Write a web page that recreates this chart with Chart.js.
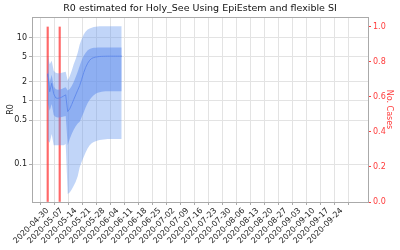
<!DOCTYPE html>
<html>
<head>
<meta charset="utf-8">
<script src="https://cdn.jsdelivr.net/npm/chart.js@4"></script>
<style>
  html, body { margin: 0; padding: 0; background: #fff; }
  canvas { display: block; }
</style>
</head>
<body>
<canvas id="chart" width="400" height="250"></canvas>
<script>
// day 0 = first estimate date, one value per day
const startDate = '2020-04-30';

const r0Mean = [2.7, 1.4, 1.9, 1.3, 1.12, 1.1, 1.12, 1.15, 1.2, 1.25,
  0.68, 0.75, 0.88, 1.05, 1.25, 1.48, 1.75, 2.2, 2.8, 3.4,
  3.95, 4.4, 4.7, 4.85, 4.95, 5.0, 5.05, 5.07, 5.08, 5.09,
  5.1, 5.1, 5.1, 5.1, 5.1, 5.1, 5.1, 5.1];
const r0Q25 = [0.95, 0.7, 0.9, 0.6, 0.56, 0.55, 0.55, 0.56, 0.57, 0.58,
  0.2, 0.25, 0.3, 0.35, 0.4, 0.44, 0.47, 0.56, 0.66, 0.8,
  0.93, 1.05, 1.15, 1.23, 1.3, 1.35, 1.38, 1.4, 1.41, 1.42,
  1.42, 1.42, 1.42, 1.42, 1.42, 1.42, 1.42, 1.42];
const r0Q75 = [3.4, 2.0, 2.6, 1.7, 1.55, 1.5, 1.52, 1.55, 1.6, 1.65,
  1.47, 1.55, 1.72, 2.0, 2.4, 2.9, 3.6, 4.4, 5.2, 5.8,
  6.3, 6.6, 6.8, 6.9, 6.95, 7.0, 7.0, 7.0, 7.0, 7.0,
  7.0, 7.0, 7.0, 7.0, 7.0, 7.0, 7.0, 7.0];
const r0Q025 = [0.24, 0.22, 0.3, 0.2, 0.2, 0.2, 0.2, 0.2, 0.2, 0.21,
  0.034, 0.036, 0.04, 0.046, 0.053, 0.065, 0.09, 0.11, 0.13, 0.155,
  0.18, 0.2, 0.215, 0.225, 0.232, 0.238, 0.242, 0.245, 0.247, 0.248,
  0.25, 0.25, 0.25, 0.25, 0.25, 0.25, 0.25, 0.25];
const r0Q975 = [5.3, 3.8, 4.3, 3.0, 2.8, 2.75, 2.75, 2.8, 2.85, 2.9,
  2.1, 2.45, 3.0, 3.8, 4.6, 5.8, 7.8, 9.5, 11.2, 12.5,
  13.4, 14.0, 14.4, 14.7, 14.9, 15.0, 15.1, 15.1, 15.1, 15.1,
  15.2, 15.2, 15.2, 15.2, 15.2, 15.2, 15.2, 15.2];

const caseDates = ['2020-04-30', '2020-05-06'];
const caseCounts = [1, 1];

const tickDates = ['2020-04-30', '2020-05-07', '2020-05-14', '2020-05-21', '2020-05-28',
  '2020-06-04', '2020-06-11', '2020-06-18', '2020-06-25', '2020-07-02', '2020-07-09',
  '2020-07-16', '2020-07-23', '2020-07-30', '2020-08-06', '2020-08-13', '2020-08-20',
  '2020-08-27', '2020-09-03', '2020-09-10', '2020-09-17', '2020-09-24'];
const r0Ticks = [0.1, 0.5, 1, 2, 5, 10];
const caseTicks = [0, 0.2, 0.4, 0.6, 0.8, 1.0];

const DAY = 86400000;
const t0 = Date.parse(startDate);
const dayOf = s => Math.round((Date.parse(s) - t0) / DAY);
const dateOf = d => new Date(t0 + d * DAY).toISOString().slice(0, 10);

const pts = arr => arr.map((v, i) => ({ x: i, y: v }));

const font = { family: 'DejaVu Sans', size: 8 };
const spine = '#aaaaaa';
const red = '#ff3b3b';

const topSpine = {
  id: 'topSpine',
  afterDraw(chart) {
    const { ctx, chartArea: a } = chart;
    ctx.save();
    ctx.strokeStyle = spine;
    ctx.lineWidth = 1;
    ctx.beginPath();
    ctx.moveTo(a.left, a.top + 0.5);
    ctx.lineTo(a.right, a.top + 0.5);
    ctx.stroke();
    ctx.restore();
  }
};

new Chart(document.getElementById('chart'), {
  type: 'line',
  data: {
    datasets: [
      { data: pts(r0Q025), borderWidth: 0, pointRadius: 0, fill: false, yAxisID: 'y' },
      { data: pts(r0Q975), borderWidth: 0, pointRadius: 0, fill: '-1',
        backgroundColor: 'rgba(100,149,237,0.4)', yAxisID: 'y' },
      { data: pts(r0Q25), borderWidth: 0, pointRadius: 0, fill: false, yAxisID: 'y' },
      { data: pts(r0Q75), borderWidth: 0, pointRadius: 0, fill: '-1',
        backgroundColor: 'rgba(100,140,237,0.55)', yAxisID: 'y' },
      { data: pts(r0Mean), borderColor: 'rgba(80,110,230,0.9)', borderWidth: 1,
        pointRadius: 0, fill: false, yAxisID: 'y' },
      { type: 'bar', data: caseDates.map((d, i) => ({ x: dayOf(d), y: caseCounts[i] })),
        yAxisID: 'y1', barThickness: 1.5, backgroundColor: 'rgba(255,40,40,0.7)',
        borderWidth: 0 }
    ]
  },
  options: {
    responsive: false,
    animation: false,
    layout: { padding: 0 },
    plugins: {
      legend: { display: false },
      tooltip: { enabled: false },
      title: {
        display: true,
        text: 'R0 estimated for Holy_See Using EpiEstem and flexible SI',
        color: '#111',
        font: { family: 'DejaVu Sans', size: 9.5, weight: 'normal', lineHeight: 1.2 },
        padding: { top: 3, bottom: 2.6 }
      }
    },
    scales: {
      x: {
        type: 'linear',
        min: -7.85,
        max: 160.15,
        offset: false,
        afterBuildTicks: s => { s.ticks = tickDates.map(d => ({ value: dayOf(d) })); },
        afterFit: s => { s.height = 48; },
        ticks: {
          autoSkip: false, minRotation: 45, maxRotation: 45, padding: 1,
          color: '#222', font, callback: v => dateOf(v)
        },
        grid: { color: '#e3e3e3', tickColor: spine, tickLength: 3 },
        border: { color: spine }
      },
      y: {
        type: 'logarithmic',
        position: 'left',
        min: 0.0254,
        max: 21.2,
        afterBuildTicks: s => { s.ticks = r0Ticks.map(v => ({ value: v })); },
        afterFit: s => { s.width = 32; },
        ticks: { color: '#222', font, padding: 2, callback: v => String(v) },
        grid: { color: '#e3e3e3', tickColor: spine, tickLength: 3 },
        border: { color: spine },
        title: { display: true, text: 'R0', color: '#222', font, padding: { top: 6, bottom: 2 } }
      },
      y1: {
        type: 'linear',
        position: 'right',
        min: 0,
        max: 1.057,
        afterBuildTicks: s => { s.ticks = caseTicks.map(v => ({ value: v })); },
        afterFit: s => { s.width = 32; },
        ticks: { color: red, font, padding: 2, callback: v => v.toFixed(1) },
        grid: { drawOnChartArea: false, tickColor: red, tickLength: 3 },
        border: { color: spine },
        title: { display: true, text: 'No. Cases', color: red, font, padding: { top: 6, bottom: 2 } }
      }
    }
  },
  plugins: [topSpine]
});
</script>
</body>
</html>
